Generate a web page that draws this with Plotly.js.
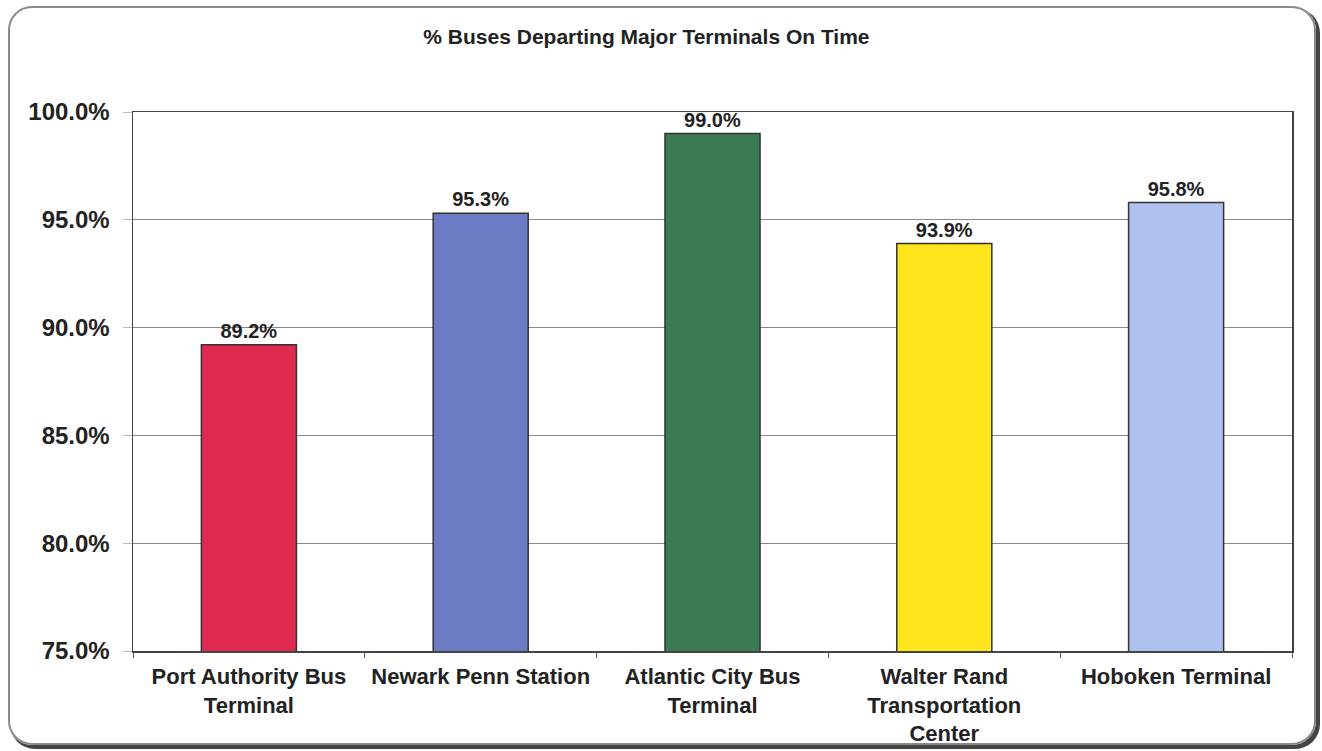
<!DOCTYPE html>
<html><head><meta charset="utf-8">
<script src="https://cdn.plot.ly/plotly-3.0.1.min.js"></script>
<style>
html,body{margin:0;padding:0;background:#fff;}
#wrap{position:relative;width:1322px;height:751px;}
#chart{position:absolute;left:0;top:0;width:1322px;height:751px;}
#frame{position:absolute;left:8px;top:6px;width:1304px;height:735px;border:2px solid #8a8a8a;border-radius:24px;box-shadow:3px 3px 0 1px #444;pointer-events:none;}
</style></head>
<body><div id="wrap"><div id="chart"></div><div id="frame"></div></div>
<script>
const categories = ["Port Authority Bus<br>Terminal","Newark Penn Station","Atlantic City Bus<br>Terminal","Walter Rand<br>Transportation<br>Center","Hoboken Terminal"];
const values = [89.2, 95.3, 99.0, 93.9, 95.8];
const colors = ["#E0294F","#6B7CC4","#3B7B51","#FFE61C","#AFC1EE"];
const yTickVals = [75,80,85,90,95,100];
const yTickText = ["75.0%","80.0%","85.0%","90.0%","95.0%","100.0%"];
const font = "Arial, 'Liberation Sans', sans-serif";

Plotly.newPlot('chart', [{
  type:'bar', x:categories, y:values,
  marker:{color:colors, line:{color:'#333', width:1.5}},
  text: values.map(v=>v.toFixed(1)+'%'), textposition:'outside',
  textfont:{family:font,size:20,color:'#222',weight:'bold'},
  cliponaxis:false, hoverinfo:'none'
}], {
  width:1322, height:751,
  margin:{l:133, r:30, t:112, b:100},
  paper_bgcolor:'rgba(0,0,0,0)', plot_bgcolor:'#fff',
  bargap:0.59,
  showlegend:false,
  title:{text:'<b>% Buses Departing Major Terminals On Time</b>', x:0.489, xanchor:'center', y:0.951, yanchor:'middle', font:{family:font,size:21,color:'#222'}},
  xaxis:{type:'category', showline:true, linecolor:'#444', linewidth:1.5, mirror:true, ticks:'outside', tickson:'boundaries', ticklen:5, tickcolor:'#555',
    ticklabelstandoff:5,
    tickfont:{family:font,size:22,color:'#222',weight:'bold'}, fixedrange:true},
  yaxis:{range:[75,100], tickvals:yTickVals, ticktext:yTickText, showgrid:true, gridcolor:'#888', gridwidth:1,
    showline:true, linecolor:'#444', linewidth:1.5, mirror:true, ticks:'outside', ticklen:9, tickcolor:'#bbb',
    ticklabelstandoff:8,
    tickfont:{family:font,size:24,color:'#222',weight:'bold'}, zeroline:false, fixedrange:true}
}, {displayModeBar:false, staticPlot:true});
</script></body></html>
